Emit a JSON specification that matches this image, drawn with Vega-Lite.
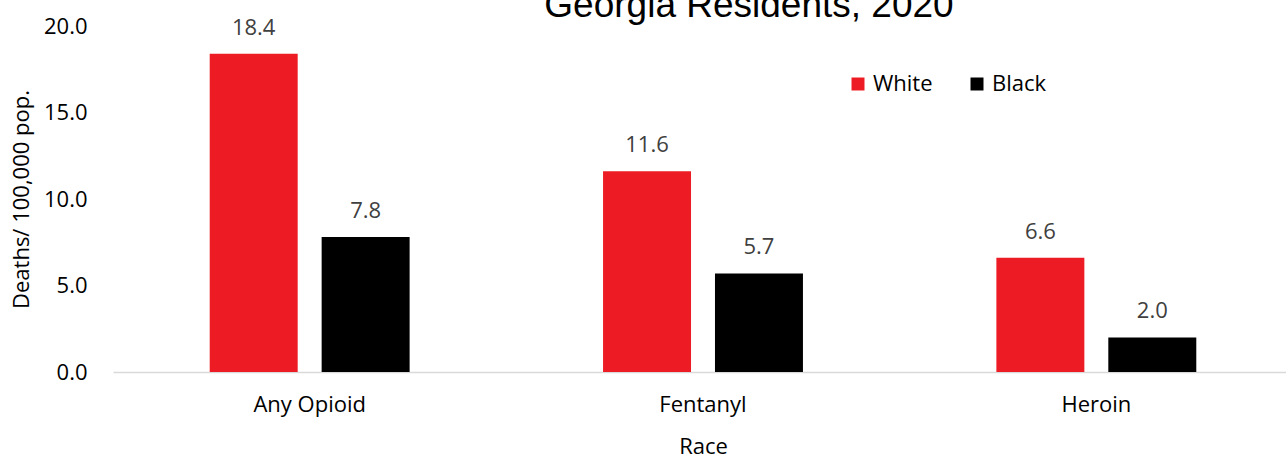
{
  "$schema": "https://vega.github.io/schema/vega-lite/v6.json",
  "autosize": {"type": "none"},
  "padding": {"left": 113, "top": 26, "right": 0, "bottom": 84},
  "width": 1180,
  "height": 346,
  "background": "white",
  "title": {
    "text": "Georgia Residents, 2020",
    "font": "Liberation Sans",
    "fontSize": 37,
    "fontWeight": "normal",
    "color": "#000000",
    "anchor": "middle",
    "baseline": "alphabetic",
    "offset": 9,
    "dx": 46,
    "dy": 48
  },
  "data": {
    "values": [
      {"drug": "Any Opioid", "race": "White", "rate": 18.4},
      {"drug": "Any Opioid", "race": "Black", "rate": 7.8},
      {"drug": "Fentanyl", "race": "White", "rate": 11.6},
      {"drug": "Fentanyl", "race": "Black", "rate": 5.7},
      {"drug": "Heroin", "race": "White", "rate": 6.6},
      {"drug": "Heroin", "race": "Black", "rate": 2.0}
    ]
  },
  "config": {
    "view": {"stroke": null},
    "font": "Open Sans"
  },
  "encoding": {
    "x": {
      "field": "drug",
      "type": "nominal",
      "sort": ["Any Opioid", "Fentanyl", "Heroin"],
      "scale": {"paddingInner": 0, "paddingOuter": 0},
      "axis": {
        "title": "Race",
        "titleFont": "Open Sans",
        "titleFontSize": 22,
        "titleFontWeight": "normal",
        "titleColor": "#000000",
        "titlePadding": 21,
        "labelFont": "Open Sans",
        "labelFontSize": 22,
        "labelColor": "#000000",
        "labelAngle": 0,
        "labelPadding": 22,
        "ticks": false,
        "domain": true,
        "domainColor": "#d9d9d9",
        "domainWidth": 1.5
      }
    },
    "xOffset": {
      "field": "race",
      "type": "nominal",
      "sort": ["White", "Black"],
      "scale": {"paddingInner": 0.214, "paddingOuter": 0.864}
    },
    "y": {
      "field": "rate",
      "type": "quantitative",
      "scale": {"domain": [0, 20], "nice": false},
      "axis": {
        "title": "Deaths/ 100,000 pop.",
        "titleFont": "Open Sans",
        "titleFontSize": 22,
        "titleFontWeight": "normal",
        "titleColor": "#000000",
        "titlePadding": 10,
        "labelFont": "Open Sans",
        "labelFontSize": 22,
        "labelColor": "#000000",
        "labelPadding": 26,
        "values": [0, 5, 10, 15, 20],
        "format": ".1f",
        "ticks": false,
        "domain": false,
        "grid": false
      }
    }
  },
  "layer": [
    {
      "mark": {"type": "bar"},
      "encoding": {
        "color": {
          "field": "race",
          "type": "nominal",
          "sort": ["White", "Black"],
          "scale": {"domain": ["White", "Black"], "range": ["#ED1C24", "#000000"]},
          "legend": {
            "title": null,
            "orient": "none",
            "legendX": 734,
            "legendY": 47,
            "direction": "horizontal",
            "symbolType": "square",
            "symbolSize": 169,
            "symbolStrokeWidth": 0,
            "labelFont": "Open Sans",
            "labelFontSize": 22,
            "labelColor": "#000000",
            "columnPadding": 33,
            "labelOffset": 4
          }
        }
      }
    },
    {
      "mark": {"type": "text", "baseline": "bottom", "dy": -14, "fontSize": 22, "font": "Open Sans", "color": "#404040"},
      "encoding": {
        "text": {"field": "rate", "type": "quantitative", "format": ".1f"}
      }
    }
  ]
}
